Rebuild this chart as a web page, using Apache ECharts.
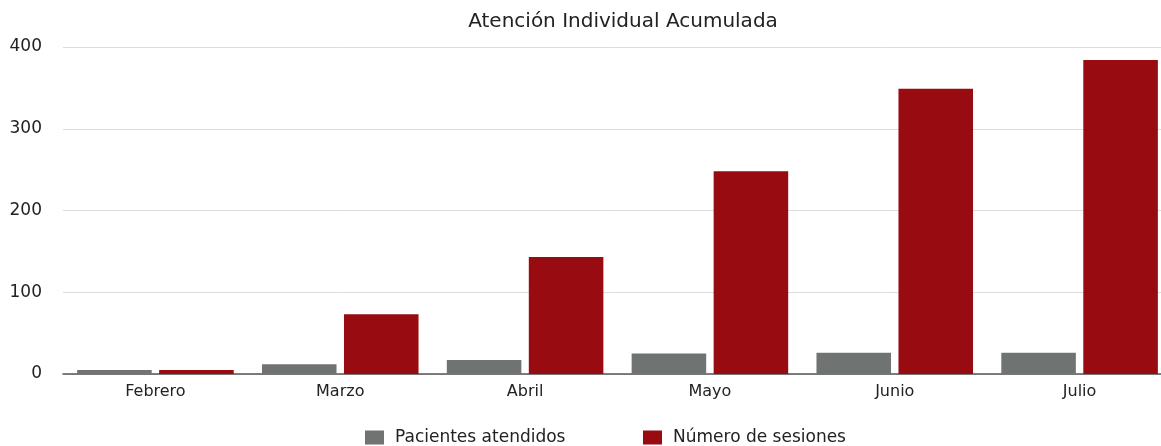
<!DOCTYPE html>
<html><head><meta charset="utf-8">
<script src="https://cdn.jsdelivr.net/npm/echarts@6/dist/echarts.min.js"></script>
<style>html,body{margin:0;padding:0;background:#fff}#c{width:1161px;height:446px}</style>
</head><body><div id="c"></div>
<script>
const categories = ['Febrero','Marzo','Abril','Mayo','Junio','Julio'];
const pacientes = [5, 12, 17, 25, 26, 26];
const sesiones = [5, 73, 143, 248, 349, 384];
const yTicks = [0, 100, 200, 300, 400];
const chart = echarts.init(document.getElementById('c'));
const font = 'DejaVu Sans, sans-serif';
const legendText = { fontFamily: font, fontSize: 17, color: '#222', padding: [0,0,0,6] };
chart.setOption({
  animation: false,
  title: { text: 'Atención Individual Acumulada', left: 618, textAlign: 'center', top: 7,
    textStyle: { fontFamily: font, fontSize: 20, fontWeight: 'normal', color: '#222' } },
  legend: [
    { left: 365, top: 429, padding: 0, itemWidth: 19, itemHeight: 14, icon: 'rect',
      textStyle: legendText, data: ['Pacientes atendidos'] },
    { left: 643, top: 429, padding: 0, itemWidth: 19, itemHeight: 14, icon: 'rect',
      textStyle: legendText, data: ['Número de sesiones'] }
  ],
  grid: { left: 63, right: -11, top: 47, bottom: 72, outerBoundsMode: 'none' },
  xAxis: { type: 'category', data: categories,
    axisLine: { lineStyle: { color: '#555', width: 1.5 } },
    axisTick: { show: false },
    axisLabel: { fontFamily: font, fontSize: 16, color: '#222', margin: 10 } },
  yAxis: { type: 'value', min: yTicks[0], max: yTicks[yTicks.length-1], interval: 100,
    axisLine: { show: false }, axisTick: { show: false },
    splitLine: { lineStyle: { color: '#dcdcdc' } },
    axisLabel: { fontFamily: font, fontSize: 17, color: '#222', margin: 21 } },
  series: [
    { name: 'Pacientes atendidos', type: 'bar', data: pacientes,
      itemStyle: { color: '#6f7371' }, barCategoryGap: '15.3%', barGap: '10%' },
    { name: 'Número de sesiones', type: 'bar', data: sesiones,
      itemStyle: { color: '#970b11' }, barCategoryGap: '15.3%', barGap: '10%' }
  ]
});
</script></body></html>
